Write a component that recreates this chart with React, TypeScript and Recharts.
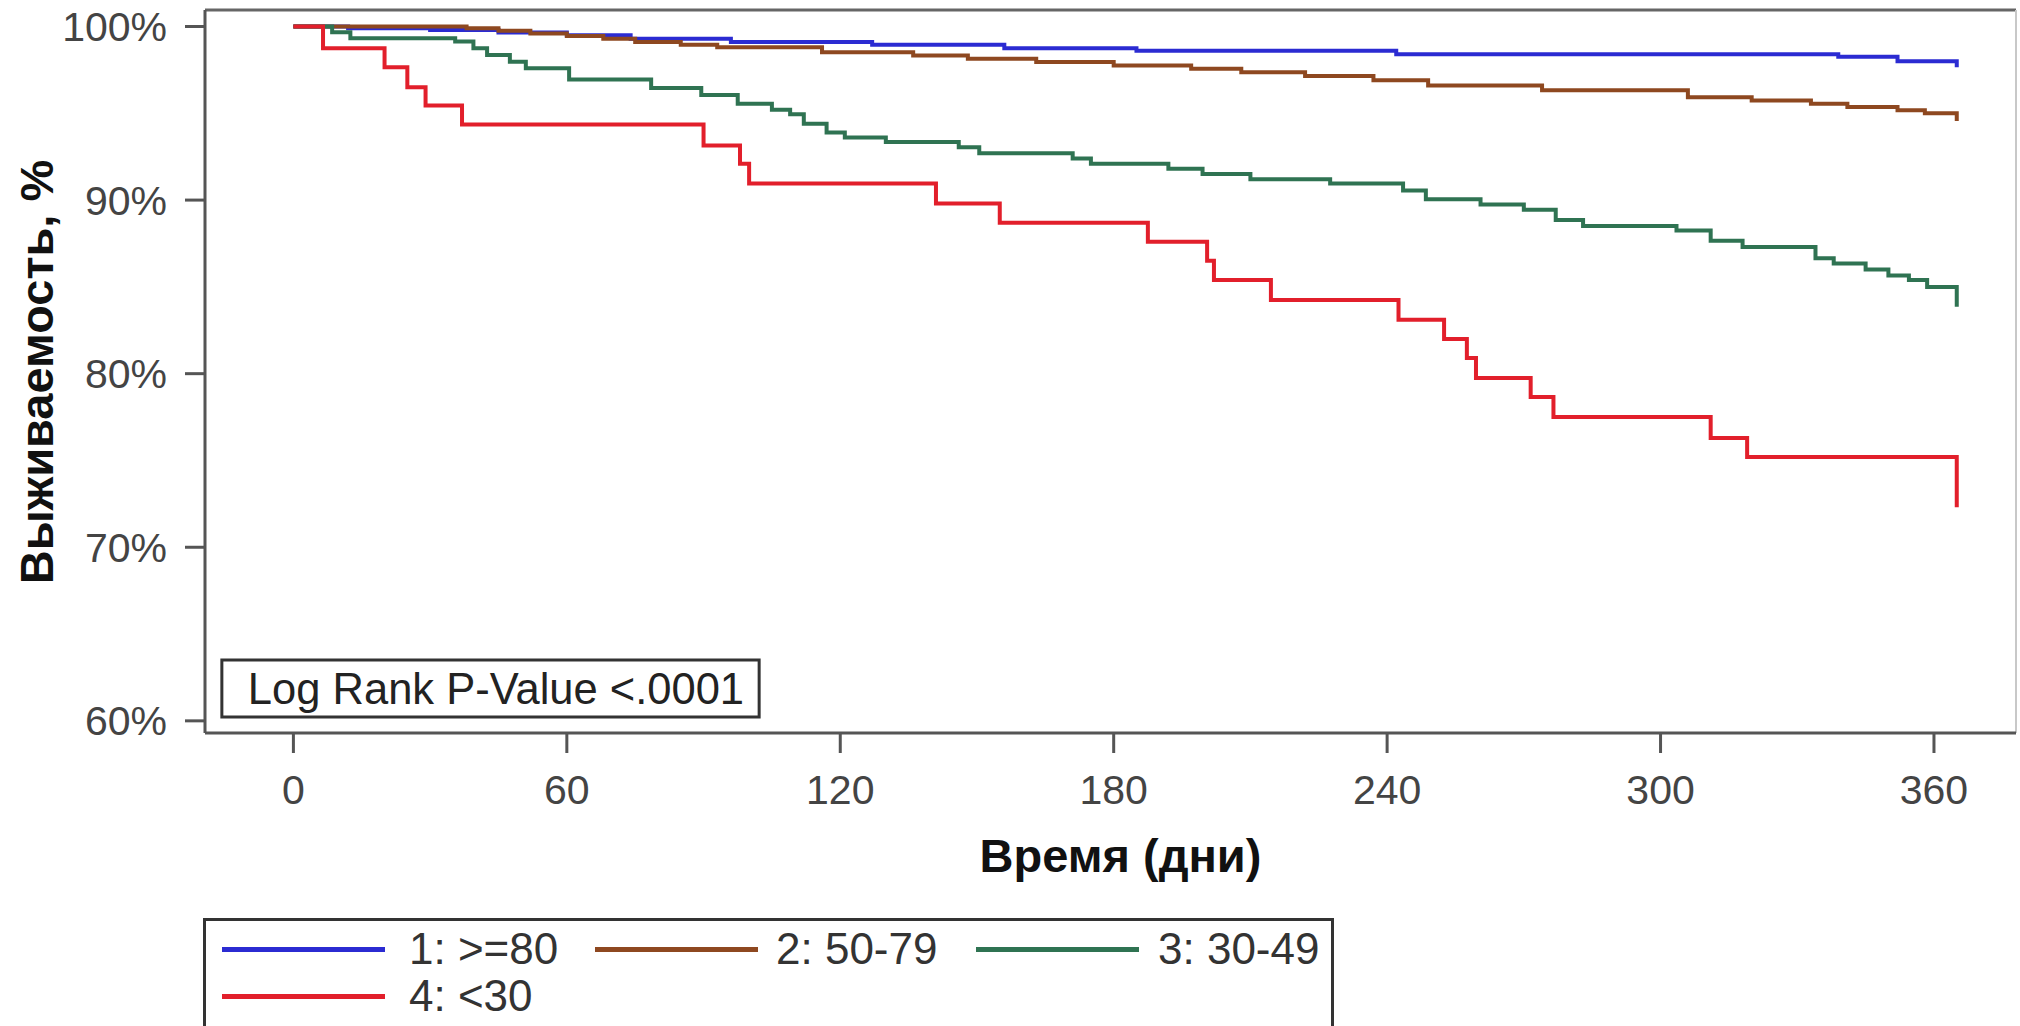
import React from 'react';
import { LineChart, Line, XAxis, YAxis, Legend, ReferenceLine, ReferenceArea, Label } from 'recharts';

const FONT = '"Liberation Sans", Arial, Helvetica, sans-serif';

// ---- data ----
const seriesNames = ['1: >=80', '2: 50-79', '3: 30-49', '4: <30'];
const seriesColors = ['#2b2bd2', '#8e4820', '#2f7352', '#e21f2b'];

const g1Days = [0, 12, 30, 45, 60, 74, 96, 127, 156, 185, 242, 339, 352, 365];
const g1Surv = [100, 99.9, 99.8, 99.65, 99.5, 99.3, 99.1, 98.95, 98.75, 98.6, 98.4, 98.25, 98.0, 97.65];

const g2Days = [0, 38, 45, 52, 60, 68, 75, 85, 93, 116, 136, 148, 163, 180, 197, 208, 222, 237, 249, 274, 306, 320, 333, 341, 352, 358, 365];
const g2Surv = [100, 99.9, 99.75, 99.6, 99.45, 99.3, 99.1, 98.95, 98.8, 98.52, 98.33, 98.14, 97.95, 97.76, 97.56, 97.37, 97.15, 96.9, 96.6, 96.32, 95.93, 95.74, 95.55, 95.36, 95.17, 95.0, 94.55];

const g3Days = [0, 8.5, 12.5, 35.5, 39.5, 42.5, 47.5, 51, 60.5, 78.5, 89.5, 97.5, 105, 109, 112, 117, 121, 130, 146, 150.5, 171, 175, 192, 199.5, 210, 227.5, 243.5, 248.5, 260.5, 270, 277, 283, 303.5, 311, 318, 334, 338, 345, 350, 354.5, 358.5, 365];
const g3Surv = [100, 99.67, 99.32, 99.13, 98.75, 98.36, 97.97, 97.59, 96.95, 96.45, 96.05, 95.55, 95.2, 94.95, 94.4, 93.9, 93.6, 93.35, 93.05, 92.7, 92.4, 92.1, 91.8, 91.5, 91.2, 90.95, 90.55, 90.05, 89.75, 89.45, 88.85, 88.5, 88.25, 87.65, 87.3, 86.65, 86.35, 86.0, 85.65, 85.4, 85.0, 83.85];

const g4Days = [0, 6.5, 20, 25, 29, 37, 90, 98, 100, 141, 155, 187.5, 200.5, 202, 214.5, 242.5, 252.5, 257.5, 259.5, 271.5, 276.5, 311, 319, 365];
const g4Surv = [100, 98.75, 97.65, 96.5, 95.45, 94.35, 93.15, 92.1, 90.95, 89.8, 88.7, 87.6, 86.5, 85.4, 84.25, 83.1, 82.0, 80.9, 79.75, 78.65, 77.5, 76.3, 75.2, 72.3];

const xTicks = [0, 60, 120, 180, 240, 300, 360];
const yTicks = [60, 70, 80, 90, 100];
const xDomain: [number, number] = [-19.4, 378];
const yDomain: [number, number] = [59.3, 100.95];
const xTitle = 'Время (дни)';
const yTitle = 'Выживаемость, %';
const pValueText = 'Log Rank P-Value <.0001';
const pBox = { x1: -15.7, x2: 102.2, y1: 60.22, y2: 63.5 };

const toRows = (days: number[], surv: number[]) => days.map((t, i) => ({ t, s: surv[i] }));
const seriesData = [toRows(g1Days, g1Surv), toRows(g2Days, g2Surv), toRows(g3Days, g3Surv), toRows(g4Days, g4Surv)];

// legend layout (relative to legend box)
const legendPos = [
  { lx: 19, tx: 206, cy: 31 },
  { lx: 392, tx: 573, cy: 31 },
  { lx: 773, tx: 955, cy: 31 },
  { lx: 19, tx: 206, cy: 78 },
];

const renderLegend = () => (
  <div
    style={{
      position: 'relative',
      width: 1131,
      height: 130,
      border: '3px solid #333',
      boxSizing: 'border-box',
      fontFamily: FONT,
      fontSize: 44,
      color: '#333',
      background: '#fff',
    }}
  >
    {seriesNames.map((name, i) => (
      <React.Fragment key={name}>
        <div
          style={{
            position: 'absolute',
            left: legendPos[i].lx - 3,
            top: legendPos[i].cy - 3 - 2.5,
            width: 163,
            height: 5,
            background: seriesColors[i],
          }}
        />
        <div
          style={{
            position: 'absolute',
            left: legendPos[i].tx - 3,
            top: legendPos[i].cy - 3 - 25,
            height: 50,
            lineHeight: '50px',
            whiteSpace: 'nowrap',
          }}
        >
          {name}
        </div>
      </React.Fragment>
    ))}
  </div>
);

const XTitle = (props: any) => {
  const vb = props.viewBox || { x: 0, y: 0, width: 0 };
  return (
    <text
      x={vb.x + vb.width / 2 + 10}
      y={872}
      textAnchor="middle"
      fontFamily={FONT}
      fontWeight="bold"
      fontSize={47}
      fill="#111"
    >
      {xTitle}
    </text>
  );
};

const YTitle = () => {
  const cx = 36;
  const cy = 372;
  return (
    <text
      x={cx}
      y={cy}
      dy="0.355em"
      transform={`rotate(-90, ${cx}, ${cy})`}
      textAnchor="middle"
      fontFamily={FONT}
      fontWeight="bold"
      fontSize={47}
      fill="#111"
    >
      {yTitle}
    </text>
  );
};

export default function App() {
  const tickStyle = { fontSize: 41, fill: '#444', fontFamily: FONT };
  const axisStroke = { stroke: '#555', strokeWidth: 3 };
  return (
    <div style={{ position: 'absolute', left: 0, top: 0, width: 2020, height: 1026, overflow: 'hidden', background: '#fff' }}>
      <LineChart width={2020} height={1026} margin={{ top: 10, right: 4, bottom: 0, left: 0 }}>
        <XAxis
          type="number"
          dataKey="t"
          domain={xDomain}
          ticks={xTicks}
          interval={0}
          allowDataOverflow
          height={293}
          tickSize={20}
          tickMargin={22}
          tick={tickStyle}
          axisLine={axisStroke}
          tickLine={axisStroke}
        >
          <Label content={<XTitle />} />
        </XAxis>
        <YAxis
          type="number"
          domain={yDomain}
          ticks={yTicks}
          interval={0}
          allowDataOverflow
          width={205}
          tickSize={20}
          tickMargin={18}
          tick={tickStyle}
          tickFormatter={(v: number) => `${v}%`}
          axisLine={axisStroke}
          tickLine={axisStroke}
        >
          <Label content={<YTitle />} />
        </YAxis>
        <ReferenceLine y={yDomain[1]} stroke="#666" strokeWidth={3} />
        <ReferenceLine x={xDomain[1]} stroke="#c8c8c8" strokeWidth={2} />
        <ReferenceArea
          x1={pBox.x1}
          x2={pBox.x2}
          y1={pBox.y1}
          y2={pBox.y2}
          fill="#fff"
          fillOpacity={1}
          stroke="#333"
          strokeWidth={3}
          label={{ value: pValueText, position: 'insideLeft', offset: 26, fontSize: 43.5, fill: '#222', fontFamily: FONT }}
        />
        {seriesData.map((rows, i) => (
          <Line
            key={seriesNames[i]}
            data={rows}
            dataKey="s"
            name={seriesNames[i]}
            type="stepAfter"
            stroke={seriesColors[i]}
            strokeWidth={4}
            dot={false}
            activeDot={false}
            isAnimationActive={false}
          />
        ))}
        <Legend
          layout="horizontal"
          align="center"
          verticalAlign="middle"
          wrapperStyle={{ position: 'absolute', left: 203, top: 918, width: 1131, height: 130 }}
          content={renderLegend}
        />
      </LineChart>
    </div>
  );
}
